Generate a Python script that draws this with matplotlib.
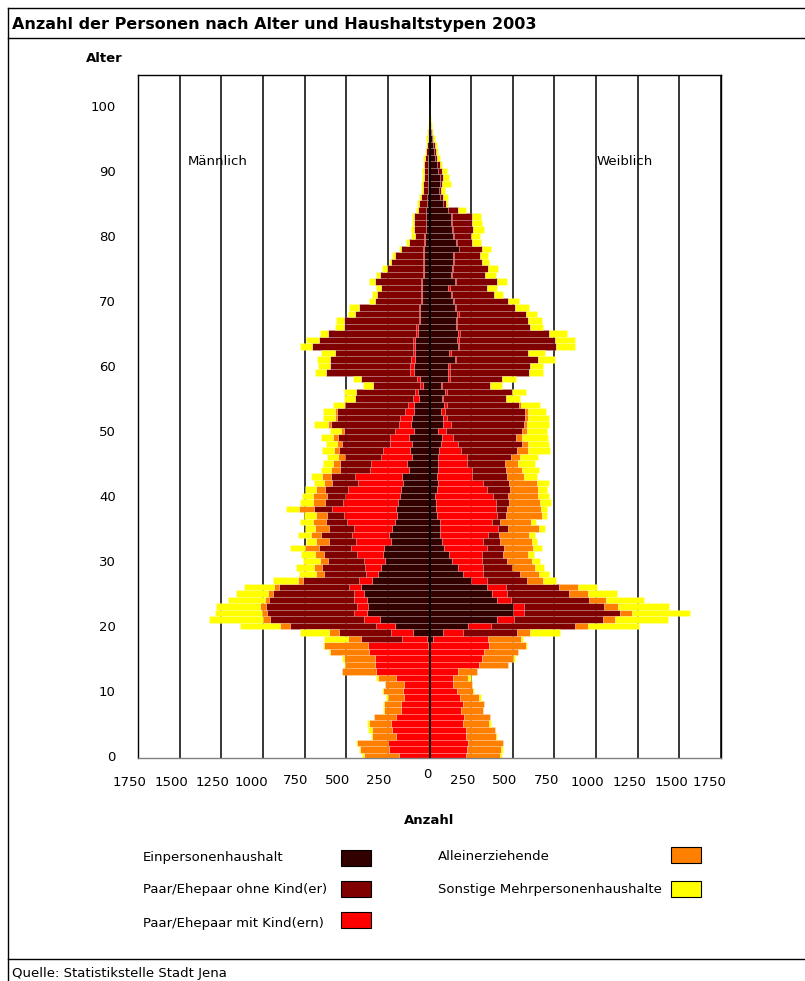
import numpy as np
import matplotlib
matplotlib.use("Agg")
import matplotlib.pyplot as plt
from matplotlib.patches import Rectangle
from matplotlib.lines import Line2D

plt.rcParams['font.family'] = ['DejaVu Sans']

# ---------------- data (ages 0..100) ----------------
ages = np.arange(101)

# Männlich
ein_m = [0]*17 + [10, 16, 102, 206, 296, 376, 370, 376, 396, 412, 346, 310, 292, 266, 282, 276, 230, 242, 226,
         210, 196, 200, 190, 176, 170, 160, 166, 126, 136, 106, 116, 106, 126, 94, 110, 106, 92, 92, 66, 70, 42,
         56, 92, 96, 90, 86, 86, 86, 70, 70, 56, 56, 56, 46, 46, 46, 46, 32, 32, 32, 32, 32, 26, 26, 22, 22, 22,
         20, 14, 14, 12, 12, 10, 8, 8, 8, 6, 6, 4, 4, 2, 2, 2, 0]
mit_m = [186, 242, 250, 200, 226, 230, 202, 170, 172, 156, 162, 152, 200, 322, 330, 330, 366, 362, 150, 128,
         116, 100, 80, 66, 76, 56, 74, 76, 72, 98, 130, 154, 194, 212, 224, 230, 286, 320, 386, 330, 334, 322,
         270, 284, 230, 216, 188, 166, 132, 114, 112, 76, 70, 58, 38, 36, 20, 18, 20, 24, 20, 20, 16, 16, 16,
         12, 12, 10, 10, 10, 8, 8, 8, 8, 10, 10, 10, 10, 10, 6, 6, 2, 2, 2, 2] + [0]*16
ohne_m = [0]*18 + [246, 316, 518, 560, 520, 546, 510, 490, 416, 340, 254, 256, 216, 200, 196, 164, 184, 150,
          124, 100, 110, 106, 106, 138, 156, 142, 180, 184, 216, 264, 288, 312, 310, 404, 380, 406, 376, 344,
          350, 280, 336, 506, 480, 486, 464, 604, 564, 530, 434, 450, 380, 360, 272, 260, 236, 276, 254, 214,
          188, 164, 128, 90, 58, 72, 68, 68, 50, 48, 40, 30, 26, 22, 26, 24, 22, 14, 10, 8, 6, 4, 2, 0, 0]
allein_m = [210, 174, 186, 146, 120, 136, 130, 106, 104, 96, 120, 114, 112, 204, 176, 186, 230, 260, 78, 60,
            60, 46, 30, 38, 28, 28, 34, 30, 44, 50, 48, 54, 84, 76, 60, 84, 80, 66, 86, 76, 86, 52, 46, 54, 56,
            46, 42, 26, 30, 30, 16, 22, 10, 14, 6, 0, 4] + [0]*44
sonst_m = [10, 10, 6, 4, 24, 12, 4, 6, 6, 10, 4, 0, 10, 0, 10, 10, 10, 10, 146, 174, 236, 324, 284, 262, 220,
           192, 180, 148, 106, 106, 102, 80, 90, 60, 80, 56, 76, 70, 80, 74, 64, 68, 60, 66, 58, 58, 64, 74, 68,
           70, 68, 80, 74, 70, 66, 70, 72, 60, 48, 68, 74, 80, 86, 74, 76, 48, 54, 46, 46, 60, 40, 32, 32, 32,
           26, 30, 16, 20, 16, 20, 20, 14, 13, 13, 12, 12, 10, 10, 12, 14, 10, 10, 8, 10, 8, 8, 4, 4, 2, 2, 2]

# Weiblich
ein_f = [0]*18 + [24, 80, 230, 408, 504, 504, 408, 374, 348, 248, 204, 174, 134, 120, 90, 78, 64, 64, 64, 44,
         40, 38, 34, 44, 50, 44, 50, 50, 54, 60, 70, 78, 54, 84, 84, 70, 88, 78, 94, 70, 114, 114, 114, 154,
         120, 174, 168, 174, 158, 158, 164, 154, 144, 130, 114, 154, 128, 134, 144, 144, 180, 160, 140, 136,
         130, 130, 110, 80, 66, 60, 64, 64, 54, 44, 34, 26, 24, 16, 12, 10, 6, 3, 1]
mit_f = [220, 224, 234, 220, 220, 204, 208, 190, 200, 184, 168, 144, 144, 174, 298, 314, 330, 358, 326, 120,
         140, 100, 66, 66, 82, 90, 110, 100, 120, 150, 180, 198, 254, 246, 286, 350, 310, 360, 358, 360, 350,
         300, 274, 210, 204, 174, 170, 130, 104, 66, 46, 44, 20, 24, 20, 6, 10, 8, 10, 10, 10, 4, 10, 4, 10,
         10, 6, 10, 14, 4, 6, 4, 10, 6, 6, 6, 4, 4, 0, 4, 10, 6, 6, 6, 4] + [0]*16
ohne_f = [0]*19 + [328, 504, 536, 574, 478, 468, 376, 320, 240, 220, 170, 154, 122, 106, 100, 70, 56, 50, 56,
          66, 80, 90, 140, 154, 210, 204, 230, 266, 334, 380, 376, 454, 442, 470, 480, 430, 374, 390, 286, 310,
          476, 480, 496, 460, 580, 576, 536, 440, 422, 400, 356, 320, 256, 220, 244, 200, 214, 166, 156, 134,
          90, 100, 122, 122, 118, 60, 18, 14, 8, 10, 20, 20, 20, 10, 12, 8, 8, 6, 2, 0, 0, 0]
allein_f = [206, 206, 210, 178, 174, 156, 156, 130, 128, 116, 96, 110, 86, 114, 172, 190, 204, 220, 200, 76,
            80, 70, 70, 86, 100, 110, 112, 96, 116, 140, 146, 154, 174, 190, 178, 190, 186, 214, 206, 186, 180,
            166, 166, 106, 100, 80, 54, 70, 40, 34, 30, 14, 20, 20, 12] + [0]*46
sonst_f = [10, 14, 0, 10, 0, 8, 0, 4, 0, 10, 4, 4, 18, 0, 4, 10, 0, 10, 14, 180, 304, 320, 350, 304, 232, 178,
           118, 74, 60, 56, 50, 34, 50, 34, 36, 34, 30, 34, 34, 66, 64, 58, 76, 78, 102, 100, 106, 130, 126,
           160, 120, 134, 124, 106, 114, 86, 86, 70, 86, 84, 80, 100, 104, 116, 120, 108, 80, 84, 70, 86, 68,
           50, 64, 60, 64, 56, 46, 50, 56, 56, 54, 64, 56, 56, 46, 16, 34, 26, 56, 34, 30, 14, 20, 12, 12, 10,
           6, 6, 4, 2, 2]

categories = ["Einpersonenhaushalt", "Paar/Ehepaar ohne Kind(er)", "Paar/Ehepaar mit Kind(ern)",
              "Alleinerziehende", "Sonstige Mehrpersonenhaushalte"]
colors = {"Einpersonenhaushalt": "#330000", "Paar/Ehepaar ohne Kind(er)": "#800000",
          "Paar/Ehepaar mit Kind(ern)": "#ff0000", "Alleinerziehende": "#ff8000",
          "Sonstige Mehrpersonenhaushalte": "#ffff00"}
# stacking order from the centre outwards
stack_order = ["Einpersonenhaushalt", "Paar/Ehepaar mit Kind(ern)", "Paar/Ehepaar ohne Kind(er)",
               "Alleinerziehende", "Sonstige Mehrpersonenhaushalte"]
male = {"Einpersonenhaushalt": ein_m, "Paar/Ehepaar mit Kind(ern)": mit_m,
        "Paar/Ehepaar ohne Kind(er)": ohne_m, "Alleinerziehende": allein_m,
        "Sonstige Mehrpersonenhaushalte": sonst_m}
female = {"Einpersonenhaushalt": ein_f, "Paar/Ehepaar mit Kind(ern)": mit_f,
          "Paar/Ehepaar ohne Kind(er)": ohne_f, "Alleinerziehende": allein_f,
          "Sonstige Mehrpersonenhaushalte": sonst_f}

xtick_vals = [1750, 1500, 1250, 1000, 750, 500, 250, 0, 250, 500, 750, 1000, 1250, 1500, 1750]

# ---------------- figure ----------------
W, H = 805, 981
fig = plt.figure(figsize=(W / 100, H / 100), dpi=100)

def fx(x):
    return x / W

def fy(y):
    return 1 - y / H

FS = 9.5

ax = fig.add_axes([fx(138), fy(758), (721 - 138) / W, (758 - 75) / H])
ax.set_xlim(-1750, 1750)
ax.set_ylim(-0.31, 104.77)

for v in range(-1750, 1751, 250):
    ax.axvline(v, color="black", lw=1.1, zorder=0)

edge = (1, 1, 1, 0.28)
cum_m = np.zeros(101)
cum_f = np.zeros(101)
for cat in stack_order:
    vm = np.array(male[cat], dtype=float)
    vf = np.array(female[cat], dtype=float)
    ax.barh(ages, -vm, left=-cum_m, height=1.0, color=colors[cat], edgecolor=edge, linewidth=0.4, zorder=2)
    ax.barh(ages, vf, left=cum_f, height=1.0, color=colors[cat], edgecolor=edge, linewidth=0.4, zorder=2)
    cum_m += vm
    cum_f += vf

ax.axvline(0, color="black", lw=1.3, zorder=5)

for s in ["top", "left", "right"]:
    ax.spines[s].set_color("black")
    ax.spines[s].set_linewidth(1.0)
ax.spines["bottom"].set_color("#808080")
ax.spines["bottom"].set_linewidth(1.0)

ax.set_yticks(range(0, 101, 10))
ax.set_yticklabels([str(v) for v in range(0, 101, 10)], fontsize=FS)
ax.tick_params(axis="y", length=0, pad=16)
ax.set_xticks([])

# x tick labels (placed as in the reference)
lab_x = [129, 171, 212, 251, 296, 338, 379, 427, 463, 505, 547, 587, 629, 671, 709]
lab_y = [783, 783, 783, 783, 781, 781, 781, 775, 781, 781, 781, 783, 783, 783, 783]
for v, x, y in zip(xtick_vals, lab_x, lab_y):
    fig.text(fx(x), fy(y), str(v), ha="center", va="center", fontsize=FS)

ax.text(-1450, 91.5, "Männlich", ha="left", va="center", fontsize=FS)
ax.text(1000, 91.5, "Weiblich", ha="left", va="center", fontsize=FS)

# titles and labels
fig.text(fx(12), fy(25), "Anzahl der Personen nach Alter und Haushaltstypen 2003", ha="left", va="center",
         fontsize=11.5, fontweight="bold")
fig.text(fx(123), fy(58), "Alter", ha="right", va="center", fontsize=FS, fontweight="bold")
fig.text(fx(429), fy(820), "Anzahl", ha="center", va="center", fontsize=FS, fontweight="bold")
fig.text(fx(12), fy(973), "Quelle: Statistikstelle Stadt Jena", ha="left", va="center", fontsize=FS)

# legend
leg = [("Einpersonenhaushalt", 143, 857, 341, 850),
       ("Paar/Ehepaar ohne Kind(er)", 143, 890, 341, 881),
       ("Paar/Ehepaar mit Kind(ern)", 143, 924, 341, 912),
       ("Alleinerziehende", 438, 857, 671, 847),
       ("Sonstige Mehrpersonenhaushalte", 438, 890, 671, 881)]
for name, tx, ty, px, py in leg:
    fig.text(fx(tx), fy(ty), name, ha="left", va="center", fontsize=FS)
    fig.patches.append(Rectangle((fx(px), fy(py + 16)), 30 / W, 16 / H, transform=fig.transFigure,
                                 facecolor=colors[name], edgecolor="black", linewidth=0.8))

# outer frame lines
for (x0, y0, x1, y1) in [(8, 8, 805, 8), (8, 8, 8, 981), (8, 38, 805, 38), (8, 959, 805, 959)]:
    fig.add_artist(Line2D([fx(x0), fx(x1)], [fy(y0), fy(y1)], transform=fig.transFigure,
                          color="black", lw=1.0))

fig.savefig("out.png", dpi=100)
